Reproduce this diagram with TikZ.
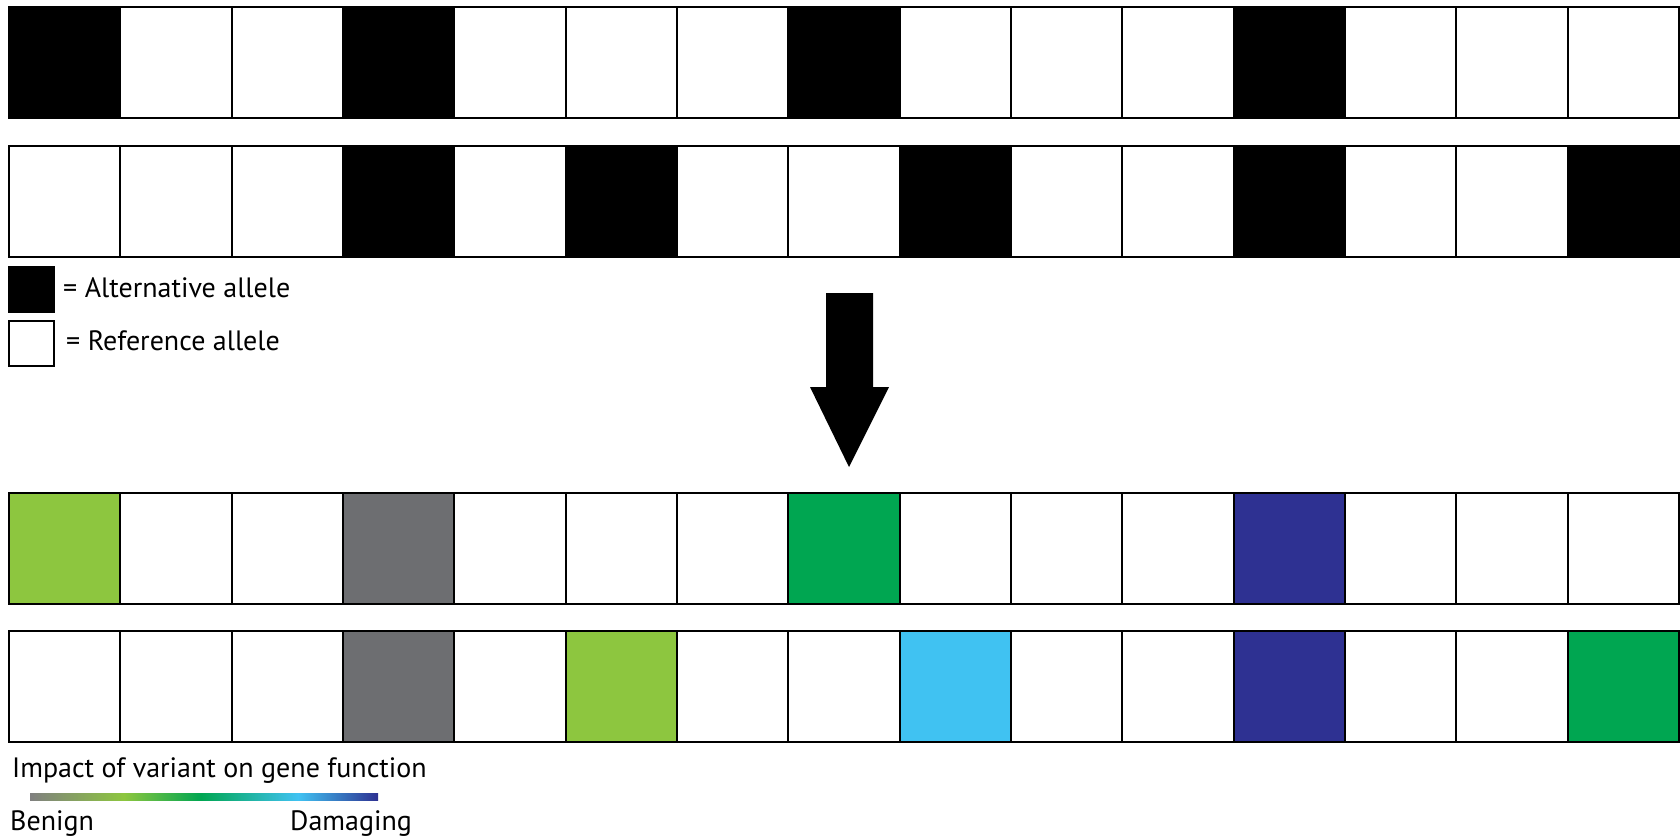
\documentclass[tikz,border=0pt]{standalone}
\usepackage{fontspec}
\setmainfont{PT Sans}
\definecolor{lgreen}{HTML}{8DC63F}
\definecolor{vgray}{HTML}{6D6E71}
\definecolor{vgreen}{HTML}{00A651}
\definecolor{dblue}{HTML}{2E3192}
\definecolor{lblue}{HTML}{40C2F2}
\definecolor{bargray}{HTML}{808080}
\pgfdeclarehorizontalshading{impact}{100bp}{color(0bp)=(bargray); color(25bp)=(bargray); color(38.5bp)=(lgreen); color(49.5bp)=(vgreen); color(63.5bp)=(lblue); color(75bp)=(dblue); color(100bp)=(dblue)}
\begin{document}
\begin{tikzpicture}[x=1pt,y=-1pt,
  cell/.style={draw=black,line width=2pt,minimum width=111.33pt,minimum height=111pt,inner sep=0pt,outer sep=0pt,anchor=north west,fill=white},
  legendbox/.style={draw=black,line width=2pt,minimum width=45pt,minimum height=45pt,inner sep=0pt,outer sep=0pt,anchor=north west},
  lbl/.style={anchor=base west,inner sep=0pt,font=\fontsize{28}{32}\selectfont}]
\useasboundingbox (0,0) rectangle (1680,839);
\fill[white] (0,0) rectangle (1680,839);
% row 1
\foreach \i/\c in {0/black,1/white,2/white,3/black,4/white,5/white,6/white,7/black,8/white,9/white,10/white,11/black,12/white,13/white,14/white}
  \node[cell,fill=\c] (ra\i) at (9+\i*111.33,7) {};
% row 2
\foreach \i/\c in {0/white,1/white,2/white,3/black,4/white,5/black,6/white,7/white,8/black,9/white,10/white,11/black,12/white,13/white,14/black}
  \node[cell,fill=\c] (rb\i) at (9+\i*111.33,146) {};
% row 3
\foreach \i/\c in {0/lgreen,1/white,2/white,3/vgray,4/white,5/white,6/white,7/vgreen,8/white,9/white,10/white,11/dblue,12/white,13/white,14/white}
  \node[cell,fill=\c] (rc\i) at (9+\i*111.33,493) {};
% row 4
\foreach \i/\c in {0/white,1/white,2/white,3/vgray,4/white,5/lgreen,6/white,7/white,8/lblue,9/white,10/white,11/dblue,12/white,13/white,14/vgreen}
  \node[cell,fill=\c] (rd\i) at (9+\i*111.33,631) {};
% legend
\node[legendbox,fill=black] (altbox) at (9,267) {};
\node[legendbox,fill=white] (refbox) at (9,321) {};
\node[lbl] (alttext) at (63,297) {= Alternative allele};
\node[lbl] (reftext) at (66,350) {= Reference allele};
% arrow
\fill[black] (826,293) -- (873,293) -- (873,387) -- (889,387) -- (849,467) -- (810,387) -- (826,387) -- cycle;
% impact legend
\node[lbl] (impact) at (12,777) {Impact of variant on gene function};
\shade[shading=impact] (30,793) rectangle (378,800);
\node[lbl] (benign) at (10,830) {Benign};
\node[lbl] (damaging) at (290,830) {Damaging};
\end{tikzpicture}
\end{document}
